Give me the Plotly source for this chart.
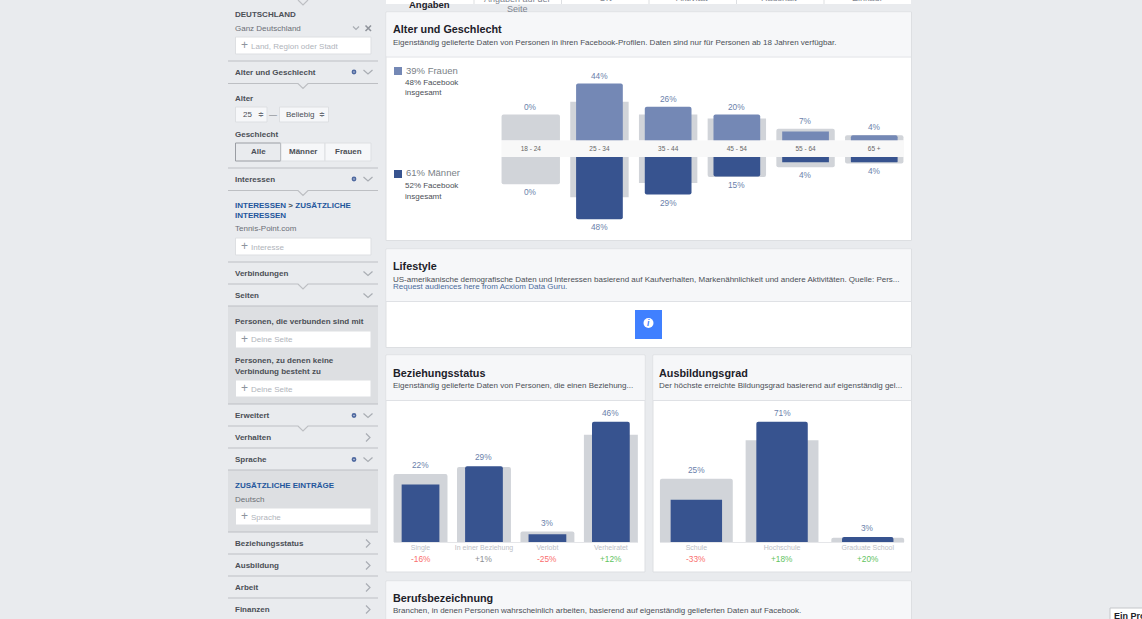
import plotly.graph_objects as go

W = 1142
H = 619

# age / gender chart
age_groups = ['18 - 24', '25 - 34', '35 - 44', '45 - 54', '55 - 64', '65 +']
women = [0, 44, 26, 20, 7, 4]
women_fb = [20, 30, 20, 17, 9, 4]
men = [0, 48, 29, 15, 4, 4]
men_fb = [21, 31, 20, 15.5, 8, 5]

# relationship chart
rel_labels = ['Single', 'In einer Beziehung', 'Verlobt', 'Verheiratet']
rel_values = [22, 29, 3, 46]
rel_fb = [26, 28.7, 4, 41]
rel_delta = ['-16%', '+1%', '-25%', '+12%']

# education chart
edu_labels = ['Schule', 'Hochschule', 'Graduate School']
edu_values = [25, 71, 3]
edu_fb = [37.4, 60, 2.5]
edu_delta = ['-33%', '+18%', '+20%']

BG = '#e9ebee'
DARK = '#dddfe2'
LINE = '#bdbfc3'
GREY_BAR = '#d1d4d9'
LIGHT_BLUE = '#7488b5'
BLUE = '#37538f'
LABEL = '#6b7fab'
LINK = '#23569c'
FONT = 'Liberation Sans'
SMALL = 8
TITLE = 10.8

shapes = []
notes = []


def fx(x):
    return x / W


def fy(y):
    return 1 - y / H


def rect(x0, y0, x1, y1, fill, line=None):
    shapes.append(dict(type='rect', xref='paper', yref='paper', layer='below',
                       x0=fx(x0), x1=fx(x1), y0=fy(y0), y1=fy(y1), fillcolor=fill,
                       line=dict(color=line or fill, width=1 if line else 0)))


def path(points, color, width=1.2):
    d = ''
    for i, p in enumerate(points):
        d += ('M' if i == 0 else 'L') + str(fx(p[0])) + ',' + str(fy(p[1]))
    shapes.append(dict(type='path', xref='paper', yref='paper', layer='below', path=d,
                       line=dict(color=color, width=width)))


def text(x, y, s, size=SMALL, color='#4b4f56', bold=False, anchor='left'):
    if bold:
        s = '<b>' + s + '</b>'
    if anchor == 'left':
        x = x - 1
    notes.append(dict(xref='paper', yref='paper', x=fx(x), y=fy(y), text=s, showarrow=False,
                      xanchor=anchor, yanchor='middle', borderpad=0,
                      font=dict(family=FONT, size=size, color=color)))


def panel(x0, y0, x1, y1, head_y):
    rect(x0, y0, x1, y1, 'white', '#dddfe2')
    rect(x0 + 0.5, y0 + 0.5, x1 - 0.5, head_y, '#f6f7f9')
    rect(x0, head_y, x1, head_y + 1, '#dfe1e5')


def chevron_down(y):
    path([(363.5, y - 2), (368, y + 2), (372.5, y - 2)], '#a9adb3')


def chevron_right(y):
    path([(366, y - 4), (370, y), (366, y + 4)], '#a9adb3')


def gear(y):
    shapes.append(dict(type='circle', xref='paper', yref='paper', layer='below',
                       x0=fx(352.4), x1=fx(355.6), y0=fy(y + 1.6), y1=fy(y - 1.6),
                       fillcolor='#c9d1e2', line=dict(color='#4f69a0', width=1.6)))


def divider(y, notch=False):
    if notch:
        path([(228, y), (298, y), (303, y + 5), (308, y), (378, y)], LINE, 1.2)
    else:
        path([(228, y), (378, y)], LINE, 1.2)


def input_box(y, s):
    rect(235.5, y, 371, y + 17, 'white', '#dddfe2')
    text(241, y + 8, '+', 12, '#8d949e')
    text(251, y + 9, s, SMALL, '#b0b4bb')


# page
rect(0, 0, W, H, BG)

# tabs on top
rect(386, -5, 911, 4, 'white')
for x in [473.5, 561, 648.5, 736, 823.5]:
    rect(x, -5, x + 1, 4, DARK)
text(429.5, 4, 'Angaben', 9.5, '#1d2129', True, 'center')
text(517, -1, 'Angaben auf der', 9, '#7f8590', False, 'center')
text(517, 9, 'Seite', 9, '#7f8590', False, 'center')
text(605, -2.5, 'Ort', 9, '#7f8590', False, 'center')
text(692, -2.5, 'Aktivität', 9, '#7f8590', False, 'center')
text(779, -2.5, 'Haushalt', 9, '#7f8590', False, 'center')
text(867, -2.5, 'Einkauf', 9, '#7f8590', False, 'center')

# sidebar
rect(228, 306, 378, 404, DARK)
rect(228, 470, 378, 532, DARK)
path([(298, 0), (303, 5), (308, 0)], LINE)
text(235, 14.5, 'DEUTSCHLAND', SMALL, '#4b4f56', True)
text(235, 28, 'Ganz Deutschland', SMALL, '#6b6f76')
path([(353, 26.5), (356, 29.5), (359, 26.5)], '#a9adb3')
path([(365.5, 25.5), (371, 31)], '#90949c', 1.6)
path([(371, 25.5), (365.5, 31)], '#90949c', 1.6)
input_box(37, 'Land, Region oder Stadt')
divider(61)
text(235, 72, 'Alter und Geschlecht', SMALL, '#4b4f56', True)
gear(72)
chevron_down(72)
divider(83.5, True)
text(235, 98, 'Alter', SMALL, '#4b4f56', True)
rect(235.5, 107, 267, 122, '#f6f7f9', '#dddfe2')
text(243, 114.5, '25', SMALL, '#4b4f56')
text(258, 114.5, '≑', 7, '#6b6f76')
text(269, 114.5, '—', SMALL, '#6b6f76')
rect(279.5, 107, 328.5, 122, '#f6f7f9', '#dddfe2')
text(286, 114.5, 'Beliebig', SMALL, '#4b4f56')
text(319, 114.5, '≑', 7, '#6b6f76')
text(235, 134, 'Geschlecht', SMALL, '#4b4f56', True)
rect(235.5, 143, 280.5, 161, BG, '#9a9da3')
rect(281, 143, 325, 161, '#f6f7f9', '#dddfe2')
rect(325, 143, 371, 161, '#f6f7f9', '#dddfe2')
text(258, 152, 'Alle', SMALL, '#4b4f56', True, 'center')
text(303, 152, 'Männer', SMALL, '#4b4f56', True, 'center')
text(348, 152, 'Frauen', SMALL, '#4b4f56', True, 'center')
divider(168)
text(235, 179, 'Interessen', SMALL, '#4b4f56', True)
gear(179)
chevron_down(179)
divider(190.5, True)
text(235, 205, 'INTERESSEN <span style="color:#4b4f56">&gt;</span> ZUSÄTZLICHE', SMALL, LINK, True)
text(235, 215.5, 'INTERESSEN', SMALL, LINK, True)
text(235, 229, 'Tennis-Point.com', SMALL, '#6b6f76')
input_box(238, 'Interesse')
divider(262)
text(235, 273.5, 'Verbindungen', SMALL, '#4b4f56', True)
chevron_down(273.5)
divider(284, True)
text(235, 295.5, 'Seiten', SMALL, '#4b4f56', True)
chevron_down(295.5)
divider(306)
text(235, 321.5, 'Personen, die verbunden sind mit', SMALL, '#4b4f56', True)
input_box(331, 'Deine Seite')
text(235, 360, 'Personen, zu denen keine', SMALL, '#4b4f56', True)
text(235, 371, 'Verbindung besteht zu', SMALL, '#4b4f56', True)
input_box(380, 'Deine Seite')
divider(404)
text(235, 415.5, 'Erweitert', SMALL, '#4b4f56', True)
gear(415.5)
chevron_down(415.5)
divider(426, True)
text(235, 437.5, 'Verhalten', SMALL, '#4b4f56', True)
chevron_right(437.5)
divider(448)
text(235, 459.5, 'Sprache', SMALL, '#4b4f56', True)
gear(459.5)
chevron_down(459.5)
divider(470)
text(235, 485.5, 'ZUSÄTZLICHE EINTRÄGE', SMALL, LINK, True)
text(235, 499, 'Deutsch', SMALL, '#6b6f76')
input_box(508, 'Sprache')
divider(532)
for name, y in [('Beziehungsstatus', 543.5), ('Ausbildung', 565.5), ('Arbeit', 587.5), ('Finanzen', 609.5)]:
    text(235, y, name, SMALL, '#4b4f56', True)
    chevron_right(y)
    if y < 600:
        divider(y + 10.5)

# panels
panel(386, 12, 911.5, 240.5, 56.5)
panel(386, 249, 911.5, 347.5, 301)
panel(386, 355, 645, 572, 400)
panel(653, 355, 911.5, 572, 400)
panel(386, 581, 911.5, 640, 625)

text(393, 29.5, 'Alter und Geschlecht', TITLE, '#1d2129', True)
text(393, 42.5, 'Eigenständig gelieferte Daten von Personen in ihren Facebook-Profilen. Daten sind nur für Personen ab 18 Jahren verfügbar.')
text(393, 266, 'Lifestyle', TITLE, '#1d2129', True)
text(393, 279, 'US-amerikanische demografische Daten und Interessen basierend auf Kaufverhalten, Markenähnlichkeit und andere Aktivitäten. Quelle: Pers...')
text(393, 286.5, 'Request audiences here from Acxiom Data Guru.', SMALL, '#4b6b9b')
text(393, 372.5, 'Beziehungsstatus', TITLE, '#1d2129', True)
text(393, 385.5, 'Eigenständig gelieferte Daten von Personen, die einen Beziehung...')
text(659, 372.5, 'Ausbildungsgrad', TITLE, '#1d2129', True)
text(659, 385.5, 'Der höchste erreichte Bildungsgrad basierend auf eigenständig gel...')
text(393, 598, 'Berufsbezeichnung', TITLE, '#1d2129', True)
text(393, 610.5, 'Branchen, in denen Personen wahrscheinlich arbeiten, basierend auf eigenständig gelieferten Daten auf Facebook.')

# legend of the age chart
rect(394, 67, 402, 75, LIGHT_BLUE)
text(406, 70, '39% Frauen', 9.5, '#7a7f87')
text(405, 82, '48% Facebook', SMALL)
text(405, 93, 'insgesamt', SMALL)
rect(394, 170, 402, 178, BLUE)
text(406, 173, '61% Männer', 9.5, '#7a7f87')
text(405, 185, '52% Facebook', SMALL)
text(405, 196, 'insgesamt', SMALL)

# band between women and men
rect(501.5, 140.5, 904, 157, '#f8f8f8')

# axis lines under the two lower charts
rect(394, 542, 638, 543, '#e5e6e9')
rect(660, 542, 904, 543, '#e5e6e9')

# info button
rect(635, 310, 662, 339, '#4080ff')
shapes.append(dict(type='circle', xref='paper', yref='paper', layer='below',
                   x0=fx(643.5), x1=fx(653.5), y0=fy(328), y1=fy(318),
                   fillcolor='white', line=dict(width=0)))
text(648.5, 323, '<b><i>i</i></b>', 8.5, '#4080ff', False, 'center')

# box in the corner
rect(1110, 608, 1150, 630, 'white', '#c4c6ca')
text(1114, 616, 'Ein Pro', 9, '#1d2129', True)

fig = go.Figure()


def add_bars(cats, fb, vals, color, xa, ya, fb_width, val_width, gap):
    fig.add_trace(go.Bar(x=cats, y=fb, width=fb_width, marker=dict(color=GREY_BAR, line=dict(width=0)),
                         xaxis=xa, yaxis=ya, showlegend=False))
    fig.add_trace(go.Bar(x=cats, y=vals, width=val_width, marker=dict(color=color, line=dict(width=0)),
                         xaxis=xa, yaxis=ya, showlegend=False))
    for c, f, v in zip(cats, fb, vals):
        down = ya == 'y2'
        notes.append(dict(xref=xa, yref=ya, x=c, y=max(f, v), text=str(v) + '%', showarrow=False,
                          yanchor='top' if down else 'bottom', yshift=-gap if down else gap, borderpad=0,
                          font=dict(family=FONT, size=8.3, color=LABEL)))


def delta_color(s):
    if s == '+1%':
        return '#8a8d91'
    return '#fa6e6e' if s[0] == '-' else '#5fc45f'


add_bars(age_groups, women_fb, women, LIGHT_BLUE, 'x', 'y', 0.85, 0.68, 2)
add_bars(age_groups, men_fb, men, BLUE, 'x2', 'y2', 0.85, 0.68, 2)
add_bars(rel_labels, rel_fb, rel_values, BLUE, 'x3', 'y3', 0.85, 0.595, 3)
add_bars(edu_labels, edu_fb, edu_values, BLUE, 'x4', 'y4', 0.85, 0.6, 3)

for cats, deltas, xa, ya in [(rel_labels, rel_delta, 'x3', 'y3 domain'), (edu_labels, edu_delta, 'x4', 'y4 domain')]:
    for c, d in zip(cats, deltas):
        notes.append(dict(xref=xa, yref=ya, x=c, y=0, text=d, showarrow=False, yanchor='middle',
                          yshift=-17, borderpad=0, font=dict(family=FONT, size=8.3, color=delta_color(d))))


def x_axis(px0, px1, n, anchor, labels=True, size=7, color='#555', standoff=2):
    return dict(domain=[fx(px0), fx(px1)], range=[-0.5, n - 0.5], anchor=anchor, type='category',
                showgrid=False, zeroline=False, showline=False,
                ticks='', ticklen=0, showticklabels=labels, ticklabelstandoff=standoff,
                tickfont=dict(family=FONT, size=size, color=color), tickangle=0, fixedrange=True)


def y_axis(px_top, px_bottom, scale, anchor, reverse=False):
    top = (px_bottom - px_top) / scale
    return dict(domain=[fy(px_bottom), fy(px_top)], range=[top, 0] if reverse else [0, top], anchor=anchor,
                visible=False, fixedrange=True)


fig.update_layout(
    width=W,
    height=H,
    margin=dict(l=0, r=0, t=0, b=0),
    paper_bgcolor=BG,
    plot_bgcolor='rgba(0,0,0,0)',
    barmode='overlay',
    barcornerradius=2,
    hovermode=False,
    showlegend=False,
    font=dict(family=FONT),
    shapes=shapes,
    annotations=notes,
    xaxis=x_axis(496.4, 908.6, 6, 'y', size=6.5, color='#666', standoff=3),
    yaxis=y_axis(57, 140.5, 1.295, 'x'),
    xaxis2=x_axis(496.4, 908.6, 6, 'y2', labels=False),
    yaxis2=y_axis(157, 240, 1.295, 'x2', reverse=True),
    xaxis3=x_axis(388.8, 642.6, 4, 'y3', size=7, color='#bcc0c6', standoff=0),
    yaxis3=y_axis(401, 542, 2.615, 'x3'),
    xaxis4=x_axis(653.5, 910.6, 3, 'y4', size=7, color='#bcc0c6', standoff=0),
    yaxis4=y_axis(401, 542, 1.694, 'x4'),
)

fig.write_html("out.html", config={'displayModeBar': False}, post_script="document.body.style.margin='0';")
